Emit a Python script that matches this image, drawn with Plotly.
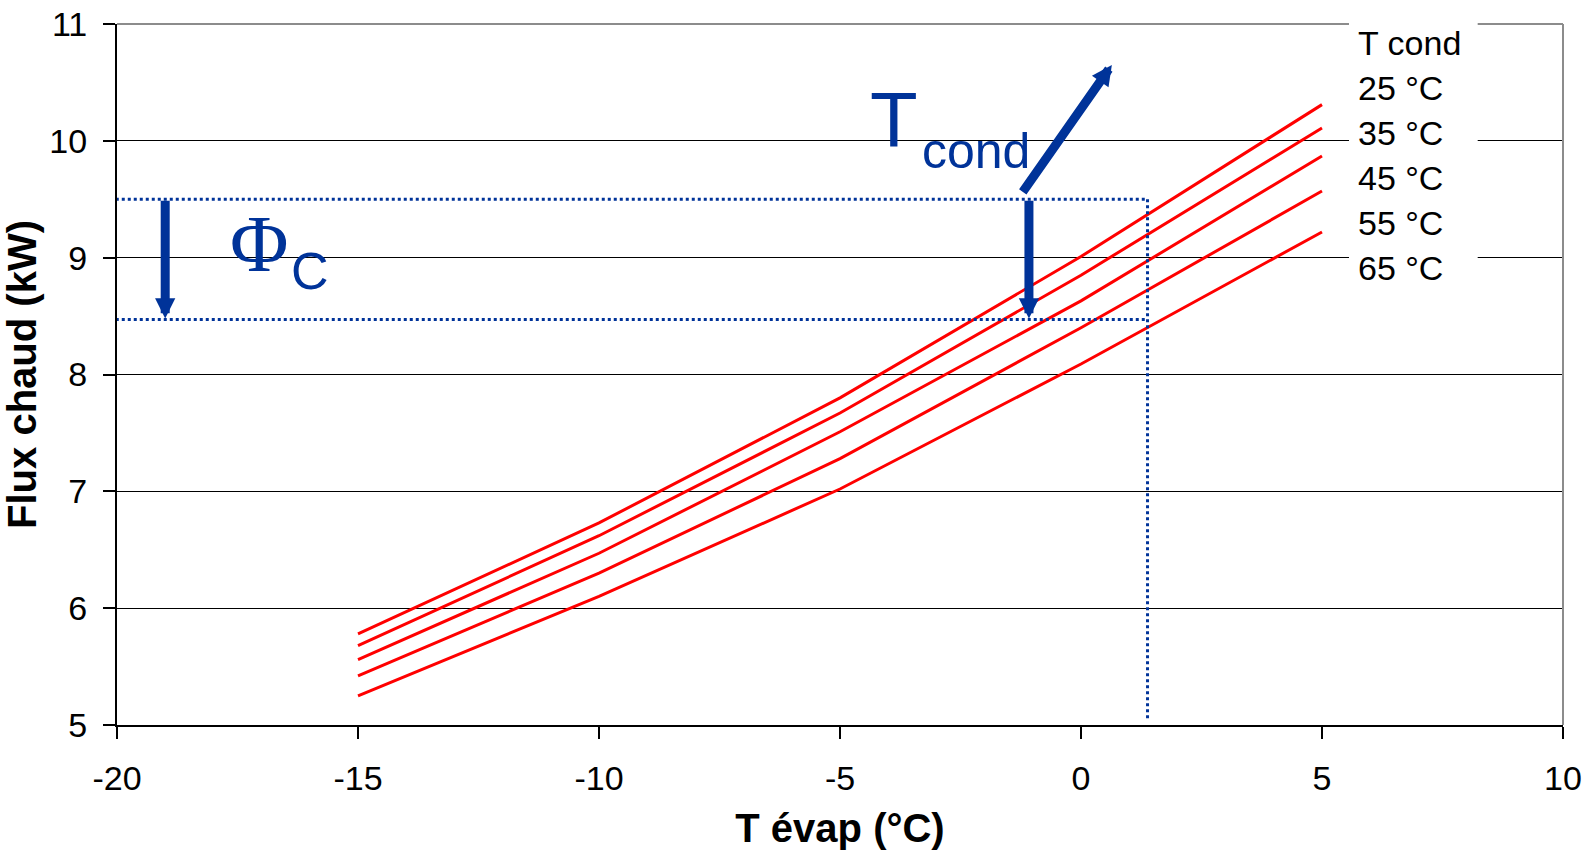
import plotly.graph_objects as go

# ---- data ----
t_evap = [-15, -10, -5, 0, 5]
series_names = ["25 °C", "35 °C", "45 °C", "55 °C", "65 °C"]
flux_25 = [5.78, 6.73, 7.80, 9.01, 10.31]
flux_35 = [5.68, 6.62, 7.67, 8.85, 10.11]
flux_45 = [5.56, 6.47, 7.51, 8.63, 9.87]
flux_55 = [5.42, 6.30, 7.28, 8.40, 9.57]
flux_65 = [5.25, 6.10, 7.02, 8.09, 9.22]
legend_title = "T cond"

x_ticks = [-20, -15, -10, -5, 0, 5, 10]
x_tick_labels = ["-20", "-15", "-10", "-5", "0", "5", "10"]
y_ticks = [5, 6, 7, 8, 9, 10, 11]
y_tick_labels = ["5", "6", "7", "8", "9", "10", "11"]

# reading guides (data coordinates)
guide_x = 1.38
guide_y_high = 9.50
guide_y_low = 8.47
guide_x_start = -20.15
guide_y_bottom = 5.05

BLUE = "#003399"
FONT = "Liberation Sans, Arial, sans-serif"

fig = go.Figure()
for name, vals in zip(series_names, [flux_25, flux_35, flux_45, flux_55, flux_65]):
    fig.add_trace(go.Scatter(x=t_evap, y=vals, mode="lines", name=name,
                             line=dict(color="#FF0000", width=3), showlegend=False))

shapes = []
dot = dict(color=BLUE, width=3, dash="dot")
shapes.append(dict(type="line", xref="x", yref="y", x0=guide_x_start, x1=guide_x,
                   y0=guide_y_high, y1=guide_y_high, line=dot, layer="above"))
shapes.append(dict(type="line", xref="x", yref="y", x0=guide_x_start, x1=guide_x,
                   y0=guide_y_low, y1=guide_y_low, line=dot, layer="above"))
shapes.append(dict(type="line", xref="x", yref="y", x0=guide_x, x1=guide_x,
                   y0=guide_y_high, y1=guide_y_bottom, line=dot, layer="above"))
shapes.append(dict(type="line", xref="paper", yref="paper", x0=0, x1=1, y0=1, y1=1,
                   line=dict(color="#8c8c8c", width=2), layer="above"))
shapes.append(dict(type="line", xref="paper", yref="paper", x0=1, x1=1, y0=0, y1=1,
                   line=dict(color="#8c8c8c", width=2), layer="above"))
shapes.append(dict(type="rect", xref="paper", yref="paper", x0=0.852, x1=0.941,
                   y0=0.62, y1=1.05, fillcolor="white", line=dict(width=0), layer="above"))

annotations = []
arrow_kw = dict(showarrow=True, arrowhead=2, arrowwidth=9, arrowsize=0.45,
                arrowcolor=BLUE, standoff=0, startstandoff=0, text="",
                xref="x", yref="y", axref="x", ayref="y")
annotations.append(dict(x=-19.0, y=8.48, ax=-19.0, ay=9.5, **arrow_kw))
annotations.append(dict(x=-1.08, y=8.48, ax=-1.08, ay=9.5, **arrow_kw))
annotations.append(dict(x=0.64, y=10.65, ax=-1.23, ay=9.55, **arrow_kw))

annotations.append(dict(x=-3.88, y=10.175, xref="x", yref="y", text="T", showarrow=False,
                        xanchor="center", yanchor="middle",
                        font=dict(family=FONT, size=78, color=BLUE)))
annotations.append(dict(x=-3.33, y=9.917, xref="x", yref="y", text="cond", showarrow=False,
                        xanchor="left", yanchor="middle",
                        font=dict(family=FONT, size=50, color=BLUE)))
annotations.append(dict(x=-17.05, y=9.119, xref="x", yref="y", text="Φ", showarrow=False,
                        xanchor="center", yanchor="middle",
                        font=dict(family="Liberation Serif, Times New Roman, serif", size=80, color=BLUE)))
annotations.append(dict(x=-16.0, y=8.883, xref="x", yref="y", text="C", showarrow=False,
                        xanchor="center", yanchor="middle",
                        font=dict(family=FONT, size=52, color=BLUE)))

leg_y = [0.9736, 0.9087, 0.8451, 0.7803, 0.7164, 0.6525]
for label, yy in zip([legend_title] + series_names, leg_y):
    annotations.append(dict(x=0.857, y=yy, xref="paper", yref="paper", text=label,
                            showarrow=False, xanchor="left", yanchor="middle",
                            font=dict(family=FONT, size=34, color="black")))

fig.update_layout(
    width=1585, height=854,
    margin=dict(l=117, r=22, t=24, b=129, autoexpand=False),
    paper_bgcolor="white", plot_bgcolor="white",
    font=dict(family=FONT, color="black"),
    shapes=shapes, annotations=annotations,
    showlegend=False,
)
fig.update_xaxes(range=[-20, 10], tickvals=x_ticks, ticktext=x_tick_labels,
                 ticks="outside", ticklen=12, automargin=False, ticklabeloverflow="allow",
                 tickwidth=1.5, tickcolor="black", showgrid=False, zeroline=False,
                 showline=True, linecolor="black", linewidth=2,
                 tickfont=dict(family=FONT, size=34), ticklabelstandoff=10,
                 title=dict(text="<b>T évap (°C)</b>", font=dict(family=FONT, size=40), standoff=18))
fig.update_yaxes(range=[5, 11], tickvals=y_ticks, ticktext=y_tick_labels,
                 ticks="outside", ticklen=12, automargin=False, ticklabeloverflow="allow",
                 tickwidth=1.5, tickcolor="black", showgrid=True, gridcolor="black",
                 gridwidth=1.3, zeroline=False, showline=True, linecolor="black", linewidth=2,
                 tickfont=dict(family=FONT, size=34), ticklabelstandoff=9,
                 title=dict(text="<b>Flux chaud (kW)</b>", font=dict(family=FONT, size=40), standoff=3))

fig.write_html("out.html", config={"displayModeBar": False},
               post_script="document.body.style.margin='0';document.body.style.overflow='hidden';")
